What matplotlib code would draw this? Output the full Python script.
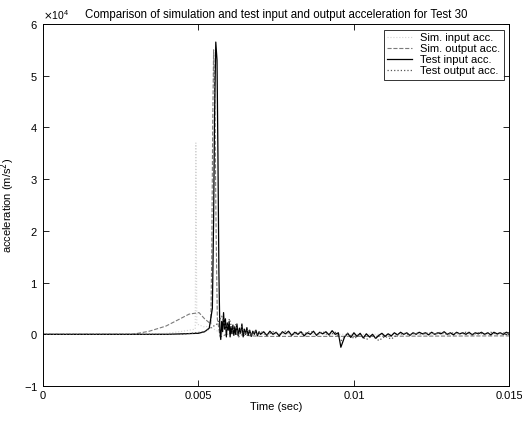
import numpy as np
import matplotlib
matplotlib.use('Agg')
import matplotlib.pyplot as plt
from matplotlib.ticker import ScalarFormatter

plt.rcParams['font.family'] = ['Liberation Sans', 'DejaVu Sans']

# acceleration values are in units of 1e4 m/s^2
sim_in_t = [0.0, 0.0030, 0.0040, 0.0045, 0.0049, 0.00492, 0.00495, 0.0052,
            0.00534, 0.0055, 0.0058, 0.0150]
sim_in_a = [0.0, 0.0, 0.02, 0.06, 0.10, 3.7, 0.2, 0.14,
            0.16, 0.10, 0.0, 0.0]

sim_out_t = [0.0, 0.0025, 0.00288, 0.00342, 0.00396, 0.00438, 0.0047, 0.00502,
             0.0052, 0.0054, 0.00543, 0.00546, 0.00549, 0.00553, 0.00557, 0.00561,
             0.0057, 0.0060, 0.0065, 0.0070, 0.0090, 0.0150]
sim_out_a = [0.0, 0.0, 0.0, 0.06, 0.16, 0.29, 0.39, 0.42,
             0.30, 0.20, 1.5, 4.0, 5.5, 4.5, 2.0, 0.3,
             -0.05, 0.02, -0.02, -0.04, -0.04, -0.03]

test_in_t = [0.0, 0.0040, 0.0050, 0.0052, 0.00535, 0.00545, 0.00549, 0.00552,
             0.00556, 0.0056, 0.00563, 0.00566, 0.00569,
             0.00572, 0.00575, 0.00578, 0.00581, 0.00584, 0.00587, 0.0059, 0.00593,
             0.00596, 0.00599, 0.00602, 0.00605, 0.00608, 0.00611, 0.00614, 0.00617,
             0.0062, 0.00624, 0.00628, 0.00632, 0.00636, 0.0064, 0.00644, 0.00648,
             0.00652, 0.00656, 0.0066, 0.00665, 0.0067, 0.00675, 0.0068, 0.00685,
             0.0069, 0.00695, 0.0070,
             0.0071, 0.0072, 0.0073, 0.0074, 0.0075, 0.0076, 0.0077, 0.0078,
             0.0079, 0.0080, 0.0081, 0.0082, 0.0083, 0.0084, 0.0085, 0.0086,
             0.0087, 0.0088, 0.0089, 0.0090, 0.0091, 0.0092, 0.0093, 0.0094,
             0.0095, 0.00958, 0.0097, 0.0098, 0.0099, 0.0100, 0.0101, 0.0102,
             0.0103, 0.0104, 0.0105, 0.0106, 0.0107, 0.0108, 0.0109, 0.0110,
             0.0111, 0.0112, 0.0113, 0.0114, 0.0115, 0.0116, 0.0117, 0.0118,
             0.0119, 0.0120, 0.0121, 0.0122, 0.0123, 0.0124, 0.0125, 0.0126,
             0.0127, 0.0128, 0.0129, 0.0130, 0.0131, 0.0132, 0.0133, 0.0134,
             0.0135, 0.0136, 0.0137, 0.0138, 0.0139, 0.0140, 0.0141, 0.0142,
             0.0143, 0.0144, 0.0145, 0.0146, 0.0147, 0.0148, 0.0149, 0.0150]
test_in_a = [0.0, 0.0, 0.02, 0.05, 0.12, 0.5, 2.2, 4.2,
             5.65, 5.3, 3.4, 1.2, 0.1,
             -0.1, 0.25, 0.05, 0.42, 0.1, 0.3, -0.05, 0.22,
             0.08, 0.25, -0.05, 0.15, 0.02, 0.18, -0.02, 0.14,
             0.0, 0.2, -0.03, 0.12, 0.02, 0.2, -0.05, 0.1,
             0.0, 0.13, -0.02, 0.08, -0.04, 0.06, 0.0, 0.08,
             -0.03, 0.05, 0.0,
             0.05, -0.02, 0.06, 0.0, 0.04, -0.03, 0.05, 0.01,
             0.06, -0.02, 0.04, 0.0, 0.05, -0.03, 0.03, 0.0,
             0.06, -0.02, 0.04, 0.01, 0.05, -0.01, 0.07, 0.0,
             0.03, -0.25, -0.05, 0.02, -0.06, 0.03, -0.04, 0.02,
             -0.07, 0.01, -0.05, 0.0, -0.08, -0.02, 0.02, -0.04,
             0.01, -0.03, 0.03, -0.01, 0.04, 0.0, 0.03, -0.02,
             0.03, 0.0, 0.04, 0.01, 0.03, -0.01, 0.04, 0.0,
             0.03, 0.01, 0.05, 0.0, 0.03, -0.01, 0.04, 0.01,
             0.03, 0.0, 0.04, -0.01, 0.03, 0.01, 0.04, 0.0,
             0.03, -0.01, 0.04, 0.01, 0.03, 0.0, 0.04, 0.02]

test_out_t = [0.0, 0.0045, 0.0052, 0.0056, 0.00575, 0.0059, 0.0060, 0.0061,
              0.0062, 0.0063, 0.0064, 0.0065, 0.0066, 0.0067, 0.0068, 0.0069,
              0.0070, 0.0072, 0.0074, 0.0076, 0.0078, 0.0080, 0.0082, 0.0084,
              0.0086, 0.0088, 0.0090, 0.0092, 0.0094, 0.0096, 0.0098, 0.0100,
              0.0102, 0.0104, 0.0106, 0.0108, 0.0110, 0.0112, 0.0114, 0.0116,
              0.0118, 0.0120, 0.0122, 0.0124, 0.0126, 0.0128, 0.0130, 0.0132,
              0.0134, 0.0136, 0.0138, 0.0140, 0.0142, 0.0144, 0.0146, 0.0148,
              0.0150]
test_out_a = [0.0, 0.0, 0.05, 0.2, 0.35, 0.1, 0.3, 0.05,
              0.2, -0.05, 0.15, 0.0, 0.1, -0.03, 0.08, 0.0,
              0.06, -0.02, 0.05, 0.0, 0.06, -0.02, 0.05, 0.01,
              0.06, 0.0, 0.05, -0.02, 0.04, -0.12, 0.02, -0.08,
              -0.02, -0.1, -0.03, -0.12, -0.04, -0.09, -0.01, 0.02,
              -0.01, 0.03, 0.0, 0.03, 0.01, 0.04, 0.0, 0.03,
              0.01, 0.04, 0.0, 0.03, 0.01, 0.04, 0.0, 0.03,
              0.02]

labels = ['Sim. input acc.', 'Sim. output acc.', 'Test input acc.', 'Test output acc.']

fig = plt.figure(figsize=(5.22, 4.28), dpi=100)
ax = fig.add_axes([0.082, 0.098, 0.894, 0.846])

scale = 1e4
ax.plot(sim_in_t, np.array(sim_in_a) * scale, color='#d2d2d2', ls=':', lw=0.8, label=labels[0])
ax.plot(sim_out_t, np.array(sim_out_a) * scale, color='#7a7a7a', ls='--', lw=0.8, label=labels[1])
ax.plot(test_in_t, np.array(test_in_a) * scale, color='black', ls='-', lw=0.9, label=labels[2])
ax.plot(test_out_t, np.array(test_out_a) * scale, color='#555555', ls=':', lw=0.9, label=labels[3])

ax.set_xlim(0, 0.015)
ax.set_ylim(-1e4, 6e4)
ax.set_xticks([0, 0.005, 0.01, 0.015])
ax.set_xticklabels(['0', '0.005', '0.01', '0.015'])
ax.set_yticks(np.arange(-1, 7) * scale)

fmt = ScalarFormatter(useMathText=True)
fmt.set_powerlimits((0, 0))
ax.yaxis.set_major_formatter(fmt)
ax.yaxis.get_offset_text().set_fontsize(7.5)

ax.tick_params(direction='in', top=True, right=True, labelsize=8, length=4, width=0.6)
for s in ax.spines.values():
    s.set_linewidth(0.7)

ax.set_title('Comparison of simulation and test input and output acceleration for Test 30',
             fontsize=8.3, pad=4)
ax.set_xlabel('Time (sec)', fontsize=8, labelpad=1)
ax.set_ylabel('acceleration (m/s$^2$)', fontsize=8)
ax.yaxis.set_label_coords(-0.055, 0.5)

leg = ax.legend(loc='upper right', fontsize=8, frameon=True, fancybox=False,
                edgecolor='black', handlelength=2.2, borderpad=0.3, labelspacing=0.1,
                borderaxespad=0.5)
leg.get_frame().set_linewidth(0.7)

fig.savefig('out.png', dpi=100)
